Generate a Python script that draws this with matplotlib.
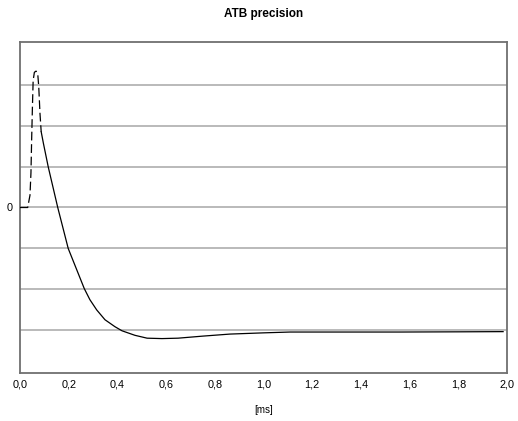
import numpy as np
import matplotlib.pyplot as plt

# response trace, time in ms, value in grid units
t_dash = [0.0, 0.0316, 0.041, 0.045, 0.048, 0.051, 0.054, 0.059, 0.066, 0.073, 0.077, 0.082, 0.087]
v_dash = [0.0, 0.0, 0.30, 0.85, 1.70, 2.45, 3.10, 3.30, 3.33, 3.25, 2.95, 2.30, 1.85]

t_solid = [0.087, 0.096, 0.116, 0.155, 0.198, 0.264, 0.287, 0.315, 0.349, 0.390, 0.419,
           0.472, 0.522, 0.583, 0.649, 0.75, 0.862, 1.0, 1.109, 1.3, 1.56, 1.8, 1.984]
v_solid = [1.85, 1.57, 0.99, 0.0, -1.00, -1.98, -2.25, -2.50, -2.74, -2.91, -3.01,
           -3.12, -3.19, -3.20, -3.19, -3.14, -3.09, -3.06, -3.04, -3.04, -3.04, -3.035, -3.03]

x_ticks = [0.0, 0.2, 0.4, 0.6, 0.8, 1.0, 1.2, 1.4, 1.6, 1.8, 2.0]
grid_levels = [-3, -2, -1, 0, 1, 2, 3]

plt.rcParams['font.family'] = ['Liberation Sans', 'DejaVu Sans']

fig = plt.figure(figsize=(5.18, 4.21), dpi=100)
ax = fig.add_axes([20 / 518, 1 - 373 / 421, 487 / 518, 331 / 421])

for g in grid_levels:
    ax.axhline(g, color='#b4b4b4', linewidth=1.3, zorder=1)

ax.plot(t_dash, v_dash, color='black', linewidth=0.9, linestyle=(0, (7, 3)), zorder=3)
ax.plot(t_solid, v_solid, color='black', linewidth=0.9, zorder=3)

ax.set_xlim(0, 2.0)
ax.set_ylim(-4.04, 4.04)
ax.set_xticks(x_ticks)
ax.set_xticklabels([f'{x:.1f}'.replace('.', ',') for x in x_ticks], fontsize=7.8)
ax.set_yticks([0])
ax.set_yticklabels(['0'], fontsize=7.8)
ax.tick_params(length=0, pad=5)

for side in ['left', 'right', 'top', 'bottom']:
    ax.spines[side].set_color('#707070')
    ax.spines[side].set_linewidth(1.3)

fig.text(263.5 / 518, 1 - 14 / 421, 'ATB precision', ha='center', va='center',
         fontsize=8.5, fontweight='bold')
fig.text(263.5 / 518, 1 - 410 / 421, '[ms]', ha='center', va='center', fontsize=7)

fig.savefig('out.png', dpi=100)
